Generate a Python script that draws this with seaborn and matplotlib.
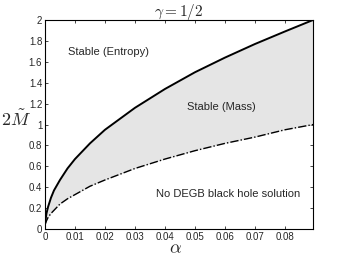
"""Stability regions of DEGB black holes, gamma = 1/2."""

import matplotlib
matplotlib.use("Agg")
import matplotlib.pyplot as plt
import pandas as pd
import seaborn as sns

# values
alpha = [0, 0.0005, 0.001, 0.002, 0.003, 0.005, 0.0075, 0.01, 0.015, 0.02,
         0.03, 0.04, 0.05, 0.06, 0.07, 0.08, 0.0894]
m_entropy = [0.05, 0.15, 0.21, 0.30, 0.37, 0.47, 0.58, 0.67, 0.82, 0.95,
             1.16, 1.34, 1.50, 1.64, 1.77, 1.89, 2.00]
m_mass = [0.04, 0.08, 0.11, 0.15, 0.18, 0.24, 0.29, 0.33, 0.41, 0.47,
          0.58, 0.67, 0.75, 0.82, 0.88, 0.95, 1.00]
x_ticks = [0, 0.01, 0.02, 0.03, 0.04, 0.05, 0.06, 0.07, 0.08]
y_ticks = [0, 0.2, 0.4, 0.6, 0.8, 1, 1.2, 1.4, 1.6, 1.8, 2]


def setup_style() -> None:
    sns.set_theme(style="ticks")
    plt.rcParams["font.family"] = ["Liberation Sans", "DejaVu Sans"]
    plt.rcParams["mathtext.fontset"] = "cm"


def main() -> None:
    setup_style()
    df = pd.DataFrame({"alpha": alpha, "entropy": m_entropy, "mass": m_mass})

    fig = plt.figure(figsize=(3.46, 2.56), dpi=100)
    ax = fig.add_axes([0.130, 0.105, 0.775, 0.817])

    ax.fill_between(df["alpha"], df["mass"], df["entropy"], color="#e5e5e5", linewidth=0)
    sns.lineplot(data=df, x="alpha", y="entropy", ax=ax, color="black", linewidth=1.4)
    sns.lineplot(data=df, x="alpha", y="mass", ax=ax, color="black", linewidth=1.0,
                 linestyle=(0, (6, 1.5, 1, 1.5)))

    ax.set_xlim(0, 0.0894)
    ax.set_ylim(0, 2)
    ax.set_xticks(x_ticks)
    ax.set_xticklabels([f"{t:g}" for t in x_ticks])
    ax.set_yticks(y_ticks)
    ax.set_yticklabels([f"{t:g}" for t in y_ticks])
    ax.tick_params(direction="in", length=2.5, width=0.6, labelsize=7,
                   top=True, right=True, pad=2)
    for spine in ax.spines.values():
        spine.set_linewidth(0.8)
        spine.set_color("black")

    ax.set_xlabel(r"$\alpha$", fontsize=13, va="center")
    ax.xaxis.set_label_coords(0.485, -0.092)
    ax.set_ylabel(r"$2\tilde{M}$", fontsize=13, rotation=0, va="center")
    ax.yaxis.set_label_coords(-0.11, 0.52)
    ax.set_title(r"$\gamma = 1/2$", fontsize=11, pad=3)

    ax.text(0.0211, 1.69, "Stable (Entropy)", fontsize=8, ha="center", va="center")
    ax.text(0.0589, 1.17, "Stable (Mass)", fontsize=8, ha="center", va="center")
    ax.text(0.0612, 0.34, "No DEGB black hole solution", fontsize=8, ha="center", va="center")

    fig.savefig("out.png", dpi=100)
    plt.close(fig)


if __name__ == "__main__":
    main()
